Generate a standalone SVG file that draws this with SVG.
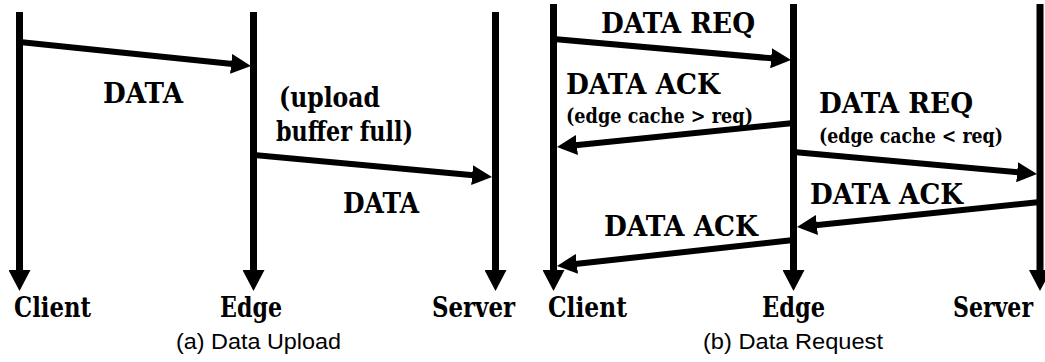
<svg xmlns="http://www.w3.org/2000/svg" width="1045" height="362" viewBox="0 0 1045 362">
  <style>
    .life { stroke: #000; stroke-width: 7; fill: none; }
    .msg { stroke: #000; stroke-width: 6; fill: none; }
    .lbl { font-family: "DejaVu Serif", "Liberation Serif", serif; font-weight: bold; font-size: 28.5px; fill: #000; }
    .note { font-family: "DejaVu Serif", "Liberation Serif", serif; font-weight: bold; font-size: 21px; fill: #000; }
    .cap { font-family: "Liberation Sans", Arial, sans-serif; font-size: 22.5px; fill: #000; }
  </style>
  <defs>
    <marker id="headLife" markerUnits="userSpaceOnUse" markerWidth="21" markerHeight="22" refX="4" refY="11" orient="auto" viewBox="0 0 21 22">
      <path d="M0,0 L21,11 L0,22 z" fill="#000"/>
    </marker>
    <marker id="headMsg" markerUnits="userSpaceOnUse" markerWidth="20" markerHeight="20" refX="4" refY="10" orient="auto" viewBox="0 0 20 20">
      <path d="M0,0 L20,10 L0,20 z" fill="#000"/>
    </marker>
  </defs>

  <!-- (a) Data Upload -->
  <g id="upload-client">
    <line class="life" x1="19.5" y1="12" x2="19.5" y2="274" marker-end="url(#headLife)"/>
    <text class="lbl" x="14" y="317" textLength="77" lengthAdjust="spacingAndGlyphs">Client</text>
  </g>
  <g id="upload-edge">
    <line class="life" x1="253.5" y1="12" x2="253.5" y2="274" marker-end="url(#headLife)"/>
    <text class="lbl" x="220" y="317" textLength="62" lengthAdjust="spacingAndGlyphs">Edge</text>
  </g>
  <g id="upload-server">
    <line class="life" x1="495.5" y1="12" x2="495.5" y2="274" marker-end="url(#headLife)"/>
    <text class="lbl" x="432" y="317" textLength="83" lengthAdjust="spacingAndGlyphs">Server</text>
  </g>
  <g id="upload-connectors">
    <line class="msg" x1="19.5" y1="42" x2="235.1" y2="64.3" marker-end="url(#headMsg)"/>
    <line class="msg" x1="253.5" y1="155" x2="476.1" y2="175.5" marker-end="url(#headMsg)"/>
  </g>
  <g id="upload-labels">
    <text class="lbl" x="103" y="103" textLength="80" lengthAdjust="spacingAndGlyphs">DATA</text>
    <text class="lbl" x="279" y="107" textLength="101" lengthAdjust="spacingAndGlyphs">(upload</text>
    <text class="lbl" x="276" y="141" textLength="137" lengthAdjust="spacingAndGlyphs">buffer full)</text>
    <text class="lbl" x="343" y="213" textLength="76" lengthAdjust="spacingAndGlyphs">DATA</text>
    <text class="cap" x="176" y="349" textLength="165" lengthAdjust="spacingAndGlyphs">(a) Data Upload</text>
  </g>

  <!-- (b) Data Request -->
  <g id="request-client">
    <line class="life" x1="553.5" y1="4" x2="553.5" y2="274" marker-end="url(#headLife)"/>
    <text class="lbl" x="548" y="317" textLength="79" lengthAdjust="spacingAndGlyphs">Client</text>
  </g>
  <g id="request-edge">
    <line class="life" x1="793.5" y1="4" x2="793.5" y2="274" marker-end="url(#headLife)"/>
    <text class="lbl" x="762" y="317" textLength="63" lengthAdjust="spacingAndGlyphs">Edge</text>
  </g>
  <g id="request-server">
    <line class="life" x1="1040" y1="4" x2="1040" y2="274" marker-end="url(#headLife)"/>
    <text class="lbl" x="953" y="317" textLength="80" lengthAdjust="spacingAndGlyphs">Server</text>
  </g>
  <g id="request-connectors">
    <line class="msg" x1="553.5" y1="39" x2="775.1" y2="58.6" marker-end="url(#headMsg)"/>
    <line class="msg" x1="793.5" y1="123" x2="572.9" y2="145.4" marker-end="url(#headMsg)"/>
    <line class="msg" x1="793.5" y1="152" x2="1021.1" y2="172.6" marker-end="url(#headMsg)"/>
    <line class="msg" x1="1040" y1="202" x2="812.9" y2="225.4" marker-end="url(#headMsg)"/>
    <line class="msg" x1="793.5" y1="240" x2="572.9" y2="264.3" marker-end="url(#headMsg)"/>
  </g>
  <g id="request-labels">
    <text class="lbl" x="601" y="33" textLength="154" lengthAdjust="spacingAndGlyphs">DATA REQ</text>
    <text class="lbl" x="566" y="94" textLength="154" lengthAdjust="spacingAndGlyphs">DATA ACK</text>
    <text class="note" x="566" y="123" textLength="187" lengthAdjust="spacingAndGlyphs">(edge cache &gt; req)</text>
    <text class="lbl" x="819" y="113" textLength="154" lengthAdjust="spacingAndGlyphs">DATA REQ</text>
    <text class="note" x="819" y="143" textLength="184" lengthAdjust="spacingAndGlyphs">(edge cache &lt; req)</text>
    <text class="lbl" x="810" y="204" textLength="153" lengthAdjust="spacingAndGlyphs">DATA ACK</text>
    <text class="lbl" x="604" y="236" textLength="154" lengthAdjust="spacingAndGlyphs">DATA ACK</text>
    <text class="cap" x="703" y="349" textLength="180" lengthAdjust="spacingAndGlyphs">(b) Data Request</text>
  </g>
</svg>
